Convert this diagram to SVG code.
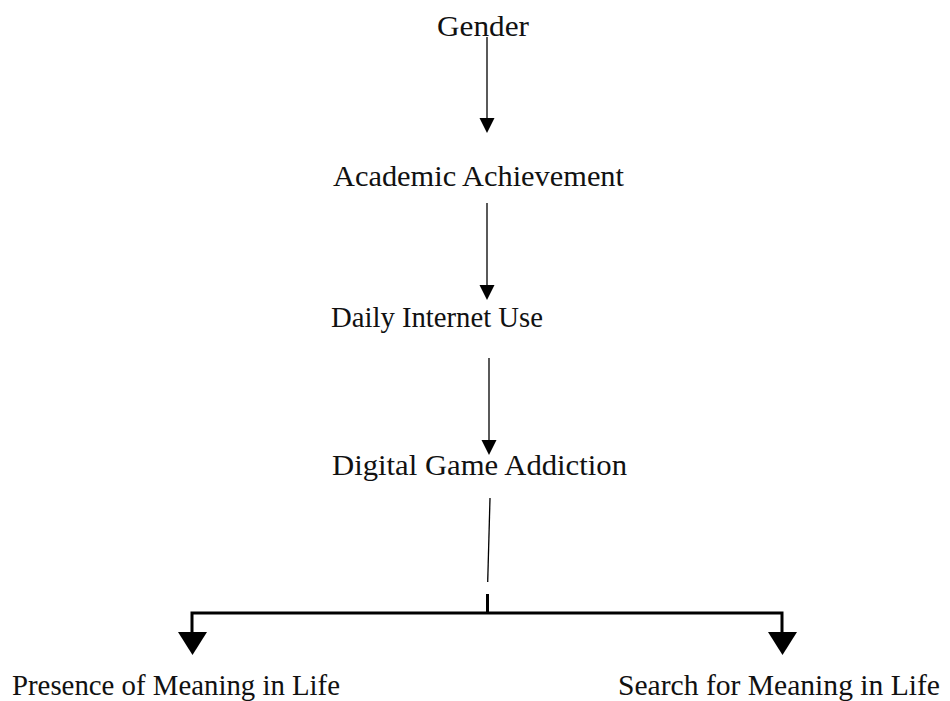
<svg xmlns="http://www.w3.org/2000/svg" width="950" height="701" viewBox="0 0 950 701">
<style>
.lbl{font-family:"Liberation Serif","Times New Roman",serif;font-size:30px;fill:#111}
.thin{stroke:#000;stroke-width:1.3;fill:none}
.thick{stroke:#000;stroke-width:3;fill:none}
</style>
<rect width="950" height="701" fill="#fff"/>
<g id="node-gender"><text class="lbl" x="437" y="36" textLength="92" lengthAdjust="spacingAndGlyphs">Gender</text></g>
<g id="node-academic"><text class="lbl" x="333" y="186" textLength="291" lengthAdjust="spacingAndGlyphs">Academic Achievement</text></g>
<g id="node-internet"><text class="lbl" x="331" y="327" textLength="212" lengthAdjust="spacingAndGlyphs">Daily Internet Use</text></g>
<g id="node-addiction"><text class="lbl" x="332" y="475" textLength="295" lengthAdjust="spacingAndGlyphs">Digital Game Addiction</text></g>
<g id="node-presence"><text class="lbl" x="12" y="695" textLength="328" lengthAdjust="spacingAndGlyphs">Presence of Meaning in Life</text></g>
<g id="node-search"><text class="lbl" x="618" y="695" textLength="322" lengthAdjust="spacingAndGlyphs">Search for Meaning in Life</text></g>
<g id="connectors">
<path class="thin" d="M487,37 V120"/>
<path d="M479.5,118 L494.5,118 L487,133 Z" fill="#000"/>
<path class="thin" d="M487,203 V287"/>
<path d="M479.5,285 L494.5,285 L487,300 Z" fill="#000"/>
<path class="thin" d="M489,358 V442"/>
<path d="M481.5,440 L496.5,440 L489,455 Z" fill="#000"/>
<path class="thin" d="M490,498 L487.7,582"/>
<path class="thick" d="M487.5,594 V613"/>
<path class="thick" d="M192,634 V613 H782 V634"/>
<path d="M178,632 L207,632 L192.5,655 Z" fill="#000"/>
<path d="M768,632 L797,632 L782.5,655 Z" fill="#000"/>
</g>
</svg>
